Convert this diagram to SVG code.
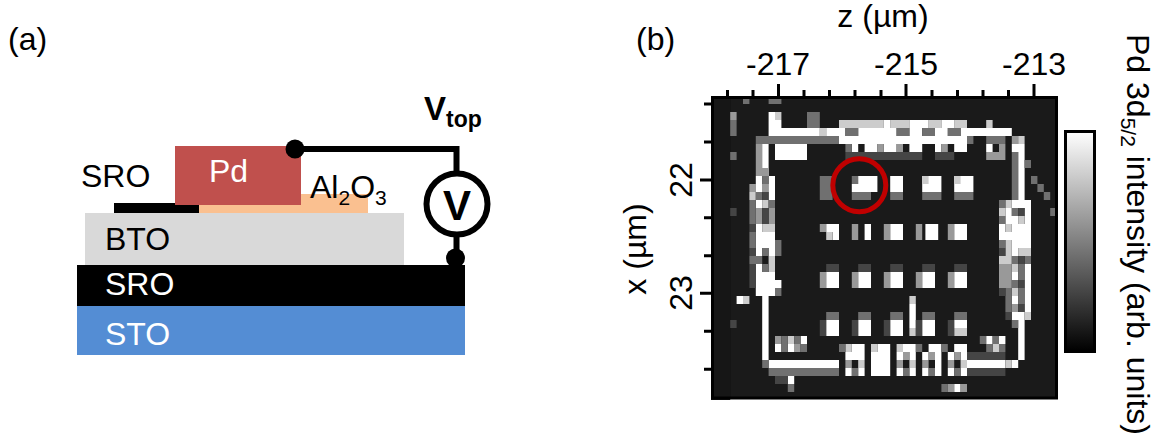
<svg xmlns="http://www.w3.org/2000/svg" width="1160" height="438" viewBox="0 0 1160 438">
<style>
text{font-family:"Liberation Sans",Arial,sans-serif;fill:#000}
.l{font-size:32px}.w{fill:#fff}.t{font-size:32px}
.ax{stroke:#000;stroke-width:3;fill:none}
.w1{fill:#fff}.g1{fill:#ccc}.g2{fill:#999}.g3{fill:#707070}.g4{fill:#444}.k{fill:#1a1a1a}
</style>
<defs><linearGradient id="cb" x1="0" y1="0" x2="0" y2="1"><stop offset="0" stop-color="#fff"/><stop offset="1" stop-color="#000"/></linearGradient>
<filter id="soft" x="0" y="0" width="1" height="1"><feGaussianBlur stdDeviation="0.5"/></filter></defs>
<rect width="1160" height="438" fill="#fff"/>
<g id="panel-a-labels"><text x="8" y="50" class="t">(a)</text><text x="636" y="50" class="t">(b)</text></g>
<g id="layer-sto"><rect x="77" y="306" width="388" height="49" fill="#548dd4"/><text x="105" y="345" class="l w">STO</text></g>
<g id="layer-sro"><rect x="77" y="265" width="388" height="41" fill="#000"/><text x="105" y="295" class="l w">SRO</text></g>
<g id="layer-bto"><rect x="85" y="213" width="319" height="52" fill="#d9d9d9"/><text x="105" y="250" class="l">BTO</text></g>
<g id="layer-al2o3"><rect x="199" y="194" width="169" height="19" fill="#fac090"/><text x="310" y="198" class="l">Al<tspan font-size="21" dy="7">2</tspan><tspan dy="-7">O</tspan><tspan font-size="21" dy="7">3</tspan></text></g>
<g id="top-sro"><rect x="114" y="203" width="85" height="10" fill="#000"/><text x="81" y="187" class="l">SRO</text></g>
<g id="pd"><rect x="175" y="146" width="126" height="59" fill="#c0504d"/><text x="209" y="182" class="l w">Pd</text></g>
<g id="connectors"><path d="M295 149H456.500V175M456.500 234V258" stroke="#000" stroke-width="6" fill="none"/><circle cx="295" cy="149" r="9.500"/><circle cx="455.500" cy="258" r="9.500"/></g>
<g id="voltmeter"><circle cx="457" cy="204" r="30.500" fill="#fff" stroke="#000" stroke-width="6"/><text x="457" y="220" text-anchor="middle" font-size="42" font-weight="700">V</text></g>
<g id="vtop"><text x="424" y="120" font-size="33" font-weight="700">V<tspan font-size="23" dy="7">top</tspan></text></g>
<g id="map">
<rect x="711" y="96" width="345" height="303" fill="#1a1a1a"/>
<g filter="url(#soft)">
<g transform="translate(711 96) scale(6.4 8)">
<rect width="3" height="38" fill="#171717"/>
<path class="g2" d="M3 2h1v1H3z"/><path class="g3" d="M3 3h1v2H3zM3 7h1v1H3zM5 0h1v1H5zM9 0h2v1H9zM15 2h2v2h-2z"/>
<path class="g4" d="M3 28h1v1H3zM3 14h1v1H3z"/>
<path class="w1" d="M9 2h1v3H9zM9 3h2v1H9zM9 4h8v1H9zM18 4h3v1h-3zM23 4h6v1h-6zM31 4h2v1h-2zM35 4h2v1h-2zM39 4h8v1h-8z"/>
<path class="g1" d="M10 2h1v1h-1zM20 3h7v1h-7zM28 3h3v1h-3zM34 3h2v1h-2zM38 3h2v1h-2zM43 3h1v1h-1zM17 4h1v1h-1z"/>
<path class="w1" d="M27 3h1v1h-1zM31 3h3v1h-3zM36 3h2v1h-2zM20 5h2v1h-2zM22 5h18v1H22z"/>
<path class="g3" d="M7 5h13v1H7zM40 5h1v1h-1zM43 5h3v1h-3zM21 4h2v1h-2zM29 4h2v1h-2zM33 4h2v1h-2zM37 4h2v1h-2z"/>
<path class="g2" d="M47 5h1v1h-1zM7 6h1v3H7zM43 7h3v1h-3z"/><path class="g1" d="M48 5h1v1h-1z"/>
<path class="w1" d="M8 6h1v4H8zM10 6h5v2h-5zM22 6h1v1h-1zM24 6h2v1h-2zM27 6h2v1h-2zM31 6h2v1h-2zM35 6h1v1h-1zM38 6h2v1h-2zM43 6h1v1h-1zM47 6h2v1h-2zM48 7h1v6h-1z"/>
<path class="g2" d="M26 6h1v1h-1zM29 6h1v1h-1zM36 6h1v1h-1zM45 6h1v1h-1z"/>
<path class="g3" d="M21 6h1v1h-1zM47 7h1v6h-1zM49 8h1v1h-1zM50 10h1v1h-1zM51 11h1v1h-1zM52 12h1v1h-1zM53 14h1v1h-1z"/>
<path class="g4" d="M21 7h12v1H21zM35 7h3v1h-3z"/>
<path class="g2" d="M7 9h2v1H7zM6 11h1v1H6zM8 11h1v1H8zM7 14h1v2H7zM9 14h1v2H9z"/>
<path class="w1" d="M7 10h1v2H7zM9 10h1v3H9zM7 13h1v1H7zM7 16h1v1H7zM7 17h3v2H7zM7 19h1v1H7zM9 19h1v1H9zM7 21h1v1H7zM7 22h3v3H7zM10 23h1v1H10zM8 25h1v8H8zM9 33h11v1H9z"/>
<path class="g1" d="M6 12h1v1H6zM8 13h1v1H8zM8 16h1v1H8zM9 16h1v1H9zM9 20h1v2H9z"/>
<path class="g3" d="M8 10h1v1H8zM7 12h1v1H7zM6 13h1v3H6zM6 17h1v2H6zM10 18h1v2H10zM6 20h2v1H6zM8 21h1v1H8zM10 24h1v1H10zM9 13h1v1H9zM8 33h1v1H8zM8 19h1v1H8z"/>
<path class="g4" d="M6 16h1v1H6zM6 19h1v1H6zM6 21h1v3H6zM8 12h1v1H8zM8 14h1v2H8z"/>
<path class="w1" d="M4 25h1v1H4z"/><path class="g1" d="M5 25h1v1H5z"/>
<path class="g3" d="M17 10h2v3h-2zM22 10h1v1h-1zM22 12h3v1h-3zM28 12h2v1h-2zM33 12h3v1h-3zM38 12h3v1h-3z"/>
<path class="w1" d="M23 10h3v1h-3zM22 11h4v1h-4zM28 10h2v2h-2zM33 10h3v2h-3zM38 10h3v2h-3z"/>
<path class="g1" d="M33 10h1v1h-1zM38 10h1v1h-1z"/>
<path class="w1" d="M18 16h2v1h-2zM24 16h1v2h-1zM28 16h2v2h-2zM33.500 16h2v2h-2zM38 16h2v2h-2zM19 17h1v1h-1z"/>
<path class="g2" d="M17 16h1v1h-1zM22 16h1v2h-1zM27 16h1v2h-1zM32 16h1v2h-1zM37 16h1v2h-1z"/>
<path class="g1" d="M18 17h1v1h-1z"/>
<path class="w1" d="M47 13h3v1h-3zM46 14h1v1h-1zM49 14h1v1h-1zM46 15h2v1h-2zM49 15h1v1h-1zM45 16h1v1h-1zM47 16h3v1h-3zM45 17h5v1h-5zM47 18h3v1h-3zM47 19h1v1h-1zM49 21h1v6h-1zM47 22h1v1h-1zM47 25h1v1h-1zM47 27h2v1h-2zM48 28h1v5h-1z"/>
<path class="g1" d="M46 13h1v1h-1zM45 14h1v1h-1zM48 15h1v1h-1zM46 16h1v1h-1zM46 18h1v2h-1zM48 19h2v1h-2zM45 20h2v1h-2zM47 21h1v1h-1zM47 24h1v1h-1zM49 27h1v1h-1z"/>
<path class="g2" d="M45 21h2v1h-2zM45 23h2v1h-2zM47 26h1v1h-1zM45 22h2v1h-2z"/>
<path class="g3" d="M45 13h1v1h-1zM45 15h1v1h-1zM45 18h1v1h-1zM47 14h1v1h-1zM47 20h1v1h-1zM49 20h1v1h-1zM48 21h1v2h-1zM47 23h1v1h-1zM48 24h1v2h-1zM46 24h1v3h-1zM47 28h1v1h-1z"/>
<path class="g4" d="M48 14h1v1h-1zM45 19h1v1h-1zM48 20h1v1h-1zM45 24h1v1h-1zM48 23h1v1h-1zM48 26h1v1h-1zM46 27h1v1h-1z"/>
<path class="g4" d="M18 21h2v1h-2zM23 21h2v1h-2zM28 21h2v1h-2zM33 21h2v1h-2zM38 21h2v1h-2z"/>
<path class="w1" d="M18 22h2v2h-2zM23 22h2v2h-2zM28 22h2v2h-2zM33 22h2v2h-2zM38 22h2v2h-2z"/>
<path class="g2" d="M17 22h1v2h-1zM22 22h1v2h-1zM27 22h1v2h-1zM32 22h1v2h-1zM37 22h1v2h-1z"/>
<path class="g3" d="M18 27h2v1h-2zM23 27h2v1h-2zM28 27h2v1h-2zM33 27h2v1h-2zM38 27h2v1h-2z"/>
<path class="w1" d="M18 28h2v2h-2zM23 28h2v2h-2zM28 28h2v2h-2zM33 28h2v2h-2zM38 28h2v1h-2z"/>
<path class="g1" d="M38 29h2v1h-2zM31 25h1v1h-1zM31 29h1v1h-1z"/><path class="w1" d="M31 26h1v3h-1z"/>
<path class="g4" d="M17 28h1v2h-1zM22 28h1v2h-1zM27 28h1v2h-1zM32 28h1v2h-1zM37 28h1v2h-1z"/>
<path class="w1" d="M22 31h2v1h-2zM21 32h3v1h-3zM21 34h1v1h-1zM23 34h1v1h-1zM26 31h2v1h-2zM25 32h3v3h-3zM30 31h2v1h-2zM29 32h1v1h-1zM31 32h1v1h-1zM29 34h1v1h-1zM31 34h1v1h-1zM34 31h2v1h-2zM33 32h1v1h-1zM35 32h1v3h-1zM33 34h1v1h-1zM38 31h2v1h-2zM37 32h1v1h-1zM39 32h1v1h-1zM37 34h1v1h-1zM39 34h1v1h-1zM40 33h6v1h-6zM47 33h1v1h-1z"/>
<path class="g1" d="M21 31h1v1h-1zM25 31h1v1h-1zM29 31h1v1h-1zM23 33h1v1h-1zM31 33h1v1h-1zM39 33h1v1h-1zM46 33h1v1h-1z"/>
<path class="g2" d="M21 33h1v1h-1zM30 32h1v1h-1zM34 32h1v1h-1zM38 32h1v1h-1zM29 33h1v1h-1zM33 33h1v1h-1zM37 33h1v1h-1z"/>
<path class="g3" d="M32 31h1v1h-1zM36 31h1v1h-1zM22 34h1v1h-1zM30 34h1v1h-1zM34 34h1v1h-1zM38 34h1v1h-1zM20 31h1v1h-1zM9 34h11v1H9z"/>
<path class="g4" d="M40 32h6v1h-6zM40 34h6v1h-6z"/>
<path class="g1" d="M12 30h1v1h-1zM44 31h1v1h-1z"/>
<path class="g2" d="M10 30h1v1h-1zM13 31h1v1h-1z"/>
<path class="w1" d="M14 30h1v1h-1zM10 31h1v1h-1zM12 31h1v1h-1zM43 30h1v1h-1zM45 30h1v1h-1z"/>
<path class="g3" d="M11 30h1v1h-1zM13 30h1v1h-1zM11 31h1v1h-1zM14 31h1v1h-1zM42 30h1v1h-1zM44 30h1v1h-1zM43 31h1v1h-1zM45 31h1v1h-1z"/>
<path class="w1" d="M12 35h1v1h-1zM38 36h1v1h-1z"/><path class="g3" d="M12 36h1v1h-1zM36 36h1v1h-1z"/><path class="g2" d="M37 36h1v1h-1zM39 36h1v1h-1z"/><path class="g4" d="M10 35h2v1h-2z"/>
</g>
</g>
</g>
<g id="axes">
<path d="M712.500 98V398H1056.500V97.500H712.500Z" class="ax"/>
<path d="M727.500 96V90M753 96V90M778.500 96V84M804 96V90M829.500 96V90M855 96V90M881 96V90M906 96V84M932 96V90M957.500 96V90M983 96V90M1008.500 96V90M1034 96V84" class="ax"/>
<path d="M711 104H704M711 142H704M711 180H700M711 217.700H704M711 255.700H704M711 293.300H700M711 331.300H704M711 369.300H704" class="ax"/>
<text x="883" y="27" text-anchor="middle" class="t">z (µm)</text>
<text x="778" y="75" text-anchor="middle" class="t">-217</text><text x="906" y="75" text-anchor="middle" class="t">-215</text><text x="1034" y="75" text-anchor="middle" class="t">-213</text>
<text transform="translate(692 180) rotate(-90)" text-anchor="middle" class="t">22</text><text transform="translate(692 293) rotate(-90)" text-anchor="middle" class="t">23</text>
<text transform="translate(646 249) rotate(-90)" text-anchor="middle" class="t">x (µm)</text>
</g>
<g id="circle-marker"><circle cx="859.300" cy="185.300" r="26.500" fill="none" stroke="#c00000" stroke-width="5"/></g>
<g id="colorbar"><rect x="1065.500" y="131.500" width="29" height="220" fill="url(#cb)" stroke="#000" stroke-width="3"/><text transform="translate(1127 34) rotate(90)" class="t">Pd 3d<tspan font-size="21" dy="6">5/2</tspan><tspan dy="-6"> intensity (arb. units)</tspan></text></g>
</svg>
